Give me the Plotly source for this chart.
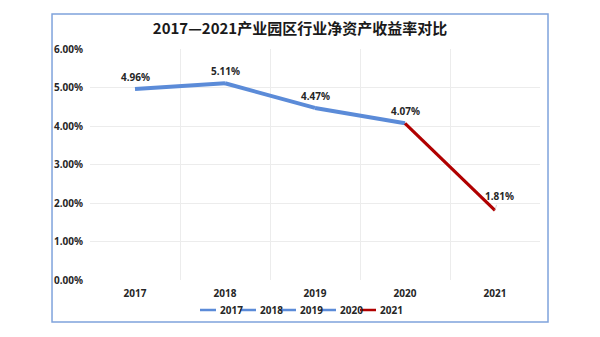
import plotly.graph_objects as go

# ROE of industrial-park sector, 2017-2021 (%)
years = ["2017", "2018", "2019", "2020", "2021"]
roe = [4.96, 5.11, 4.47, 4.07, 1.81]
seg_colors = ["#5b8bd8", "#5b8bd8", "#5b8bd8", "#5b8bd8", "#b00000"]
y_ticks = [0, 1, 2, 3, 4, 5, 6]
title = "2017—2021产业园区行业净资产收益率对比"

num_font = "Noto Sans, Open Sans, sans-serif"
cjk_font = "Noto Sans CJK SC, sans-serif"

fig = go.Figure()

# each year's trace is the segment ending at that year (Excel-style per-point colouring)
for i, yr in enumerate(years):
    xs = years[max(i - 1, 0):i + 1]
    ys = roe[max(i - 1, 0):i + 1]
    fig.add_trace(go.Scatter(
        x=xs, y=ys, mode="lines", name=yr,
        line=dict(color=seg_colors[i], width=4 if seg_colors[i] != "#b00000" else 3.2),
        showlegend=False, hoverinfo="skip",
    ))

# value labels (category index used as x position)
for i, v in enumerate(roe):
    last = i == len(years) - 1
    fig.add_annotation(
        x=i, y=v, text=f"<b>{v:.2f}%</b>",
        showarrow=last, arrowhead=0, arrowwidth=0.8, arrowcolor="#c8c8c8",
        ax=4 if last else 0, ay=-14 if last else 0,
        yshift=0 if last else 12, standoff=0,
        font=dict(family=num_font, size=10, color="#262626"),
    )

# chart border
fig.add_shape(type="rect", xref="paper", yref="paper",
              x0=-0.0844, x1=1.0178, y0=-0.1818, y1=1.1515,
              line=dict(color="#7fa3dc", width=1.5), fillcolor="rgba(0,0,0,0)")

# custom compact legend
lx0 = 200
for i, yr in enumerate(years):
    x = lx0 + i * 40
    fig.add_shape(type="line", xref="paper", yref="paper",
                  x0=(x - 90) / 450, x1=(x + 16 - 90) / 450,
                  y0=(280 - 310) / 231, y1=(280 - 310) / 231,
                  line=dict(color=seg_colors[i], width=2.5))
    fig.add_annotation(xref="paper", yref="paper",
                       x=(x + 18 - 90) / 450, y=(280 - 310) / 231,
                       xanchor="left", yanchor="middle", showarrow=False,
                       text=f"<b>{yr}</b>",
                       font=dict(family=num_font, size=10, color="#262626"))

fig.update_layout(
    width=600, height=337,
    margin=dict(l=90, r=60, t=49, b=57),
    paper_bgcolor="white", plot_bgcolor="white",
    title=dict(text=f"<b>{title}</b>", x=0.5, xanchor="center",
               y=1 - 29 / 337, yanchor="middle", yref="container",
               font=dict(family=cjk_font, size=15, color="#1a1a1a")),
    xaxis=dict(
        type="category", categoryorder="array", categoryarray=years,
        range=[-0.5, len(years) - 0.5],
        tickson="boundaries", showgrid=True,
        gridcolor="#ececec", gridwidth=1, showline=False, zeroline=False,
        ticks="", ticklabelstandoff=6,
        tickvals=years, ticktext=[f"<b>{y}</b>" for y in years],
        tickfont=dict(family=num_font, size=10, color="#262626"),
    ),
    yaxis=dict(
        range=[0, 6], tickvals=y_ticks,
        ticktext=[f"<b>{t:.2f}%</b>" for t in y_ticks],
        showgrid=True, gridcolor="#ececec", gridwidth=1,
        zeroline=False, showline=False, ticks="", ticklabelstandoff=6,
        tickfont=dict(family=num_font, size=10, color="#262626"),
    ),
    showlegend=False,
)

fig.write_html("out.html")
